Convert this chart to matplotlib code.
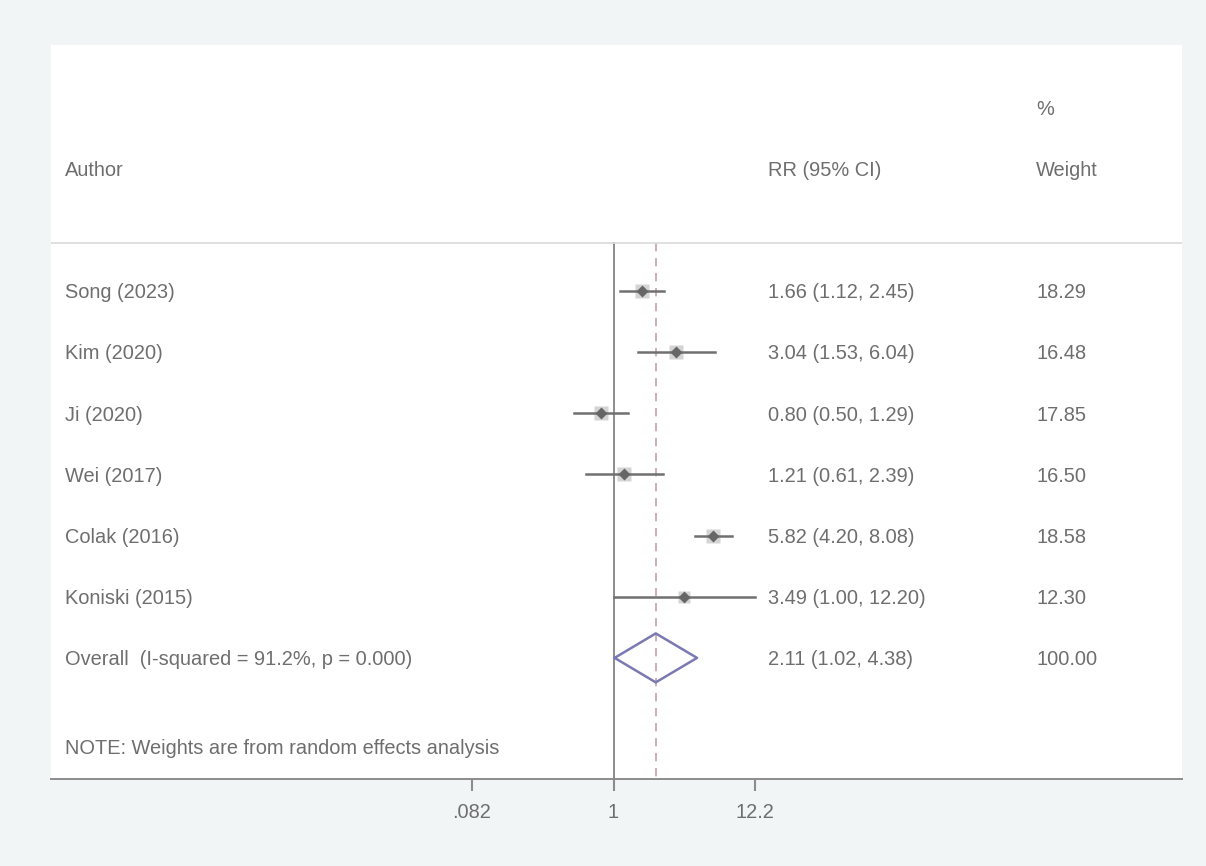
"""Forest plot of relative risks (random effects meta-analysis)."""
import matplotlib
matplotlib.use("Agg")
import matplotlib.pyplot as plt
import numpy as np

# study data
authors = ["Song (2023)", "Kim (2020)", "Ji (2020)", "Wei (2017)",
           "Colak (2016)", "Koniski (2015)"]
rr = [1.66, 3.04, 0.80, 1.21, 5.82, 3.49]
ci_low = [1.12, 1.53, 0.50, 0.61, 4.20, 1.00]
ci_high = [2.45, 6.04, 1.29, 2.39, 8.08, 12.20]
weights = [18.29, 16.48, 17.85, 16.50, 18.58, 12.30]

# pooled estimate
overall_label = "Overall  (I-squared = 91.2%, p = 0.000)"
overall_rr = 2.11
overall_low = 1.02
overall_high = 4.38

note = "NOTE: Weights are from random effects analysis"
tick_values = [0.082, 1, 12.2]
tick_labels = [".082", "1", "12.2"]

plt.rcParams['font.family'] = ['Liberation Sans', 'DejaVu Sans']
text_color = '#6e6e6e'
fs = 14.4

fig = plt.figure(figsize=(12.06, 8.66), dpi=100, facecolor='#f1f5f6')
W, H = 1206, 866
ax = fig.add_axes([51 / W, (H - 779) / H, (1182 - 51) / W, (779 - 45) / H])
ax.set_facecolor('white')

ax.set_xscale('log')
ax.set_xlim(10 ** -4.318, 10 ** 4.364)
ax.set_ylim(8.98, -3.02)

rows = np.arange(1, len(authors) + 1)
overall_row = len(authors) + 1
line_top = 0.215
dy_txt = 0.03  # small nudge so text sits on the row centre

# reference lines
ax.plot([1, 1], [line_top, 8.98], color='#8c8c8c', lw=1.4, zorder=1)
ax.plot([overall_rr, overall_rr], [line_top, 8.98], color='#c7a0ad',
        lw=1.2, ls=(0, (5, 4)), zorder=1)

# header separator
ax.axhline(line_top, color='#dadada', lw=1.2)

# study estimates
for row, est, lo, hi, w in zip(rows, rr, ci_low, ci_high, weights):
    ax.plot(est, row, marker='s', ms=3.27 * np.sqrt(w) * 0.72,
            color='#d4d4d4', mec='none', zorder=2)
    ax.plot([lo, hi], [row, row], color='#707070', lw=1.8, zorder=3)
    ax.plot(est, row, marker='D', ms=6, color='#666666', mec='none',
            zorder=4)

# overall diamond
dx = [overall_low, overall_rr, overall_high, overall_rr, overall_low]
dy = [overall_row, overall_row - 0.4, overall_row, overall_row + 0.4,
      overall_row]
ax.plot(dx, dy, color='#7b79b2', lw=1.8, zorder=3)

# text columns
trans = ax.get_yaxis_transform()
x_author, x_rr, x_wt = 0.0124, 0.634, 0.871


def put(x, y, s):
    ax.text(x, y + dy_txt, s, transform=trans, va='center', fontsize=fs,
            color=text_color)


put(x_author, -1, "Author")
put(x_rr, -1, "RR (95% CI)")
put(x_wt, -2, "%")
put(x_wt, -1, "Weight")

for row, name, est, lo, hi, w in zip(rows, authors, rr, ci_low, ci_high,
                                     weights):
    put(x_author, row, name)
    put(x_rr, row, f"{est:.2f} ({lo:.2f}, {hi:.2f})")
    put(x_wt, row, f"{w:.2f}")

put(x_author, overall_row, overall_label)
put(x_rr, overall_row,
    f"{overall_rr:.2f} ({overall_low:.2f}, {overall_high:.2f})")
put(x_wt, overall_row, "100.00")
put(x_author, 8.45, note)

# axes styling
for side in ['top', 'right', 'left']:
    ax.spines[side].set_visible(False)
ax.spines['bottom'].set_color('#8c8c8c')
ax.spines['bottom'].set_linewidth(1.4)
ax.set_yticks([])
ax.set_xticks(tick_values)
ax.set_xticklabels(tick_labels)
ax.xaxis.set_minor_locator(matplotlib.ticker.NullLocator())
ax.tick_params(axis='x', length=8.5, width=1.5, color='#8c8c8c',
               labelsize=fs, labelcolor=text_color, pad=8.5)

fig.savefig("out.png", dpi=100, facecolor=fig.get_facecolor())
